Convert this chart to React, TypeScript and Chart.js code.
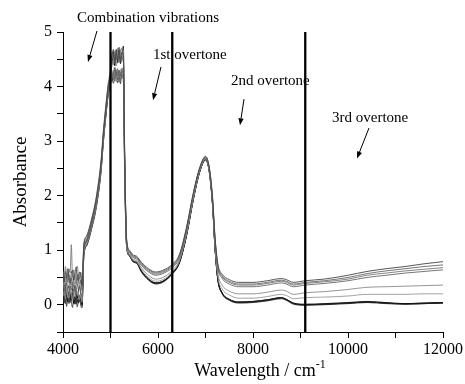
import React, { useEffect, useRef } from "react";
import { Chart, registerables } from "chart.js";

Chart.register(...registerables);

// wavenumber sample positions (cm-1)
const WN = [
  4000, 4025, 4050, 4075, 4100, 4125, 4150, 4175, 4200, 4225, 4250, 4275, 4300, 4325, 4350, 4375, 4400,
  4440, 4500, 4600, 4700, 4800, 4850, 4900, 4950, 5000,
  5030, 5060, 5090, 5120, 5150, 5180, 5210, 5240, 5270,
  5300, 5340, 5400, 5480, 5550, 5650, 5800, 5950, 6100, 6300, 6450, 6600, 6750, 6880, 7000, 7080, 7150, 7200,
  7260, 7350, 7500, 7700, 8000, 8300, 8600, 8700, 8850, 9100, 9500, 10000, 10400, 10800, 11200, 11600, 12000,
];

const S1 = [
  0.55, 0.42, 0.61, 0.48, 0.66, 0.52, 0.40, 0.58, 0.63, 0.45, 0.57, 0.69, 0.50, 0.44, 0.60, 0.53, 0.35,
  1.10, 1.25, 1.55, 1.95, 2.60, 3.15, 3.60, 4.00, 4.25,
  4.55, 4.68, 4.42, 4.61, 4.50, 4.72, 4.45, 4.63, 4.58,
  2.60, 1.20, 1.00, 0.91, 0.89, 0.78, 0.66, 0.60, 0.63, 0.74, 0.92, 1.42, 2.08, 2.52, 2.72, 2.52, 1.95, 1.25,
  0.75, 0.56, 0.46, 0.41, 0.41, 0.44, 0.48, 0.46, 0.41, 0.44, 0.47, 0.54, 0.61, 0.66, 0.70, 0.75, 0.79,
];
const S2 = [
  0.38, 0.50, 0.33, 0.47, 0.41, 0.56, 0.36, 0.49, 0.30, 0.52, 0.44, 0.37, 0.55, 0.42, 0.31, 0.46, 0.25,
  1.00, 1.18, 1.48, 1.88, 2.52, 3.08, 3.52, 3.92, 4.18,
  4.25, 4.12, 4.30, 4.18, 4.33, 4.08, 4.27, 4.15, 4.22,
  2.55, 1.18, 0.98, 0.89, 0.87, 0.76, 0.64, 0.58, 0.61, 0.72, 0.90, 1.40, 2.06, 2.51, 2.71, 2.50, 1.93, 1.22,
  0.72, 0.53, 0.43, 0.38, 0.38, 0.41, 0.45, 0.43, 0.38, 0.41, 0.44, 0.50, 0.57, 0.62, 0.66, 0.70, 0.73,
];
const S3 = [
  0.62, 0.48, 0.70, 0.55, 0.45, 0.66, 0.58, 1.10, 0.52, 0.64, 0.49, 0.59, 0.71, 0.54, 0.47, 0.60, 0.40,
  1.12, 1.27, 1.57, 1.98, 2.64, 3.20, 3.65, 4.05, 4.30,
  4.48, 4.40, 4.65, 4.52, 4.70, 4.44, 4.60, 4.71, 4.52,
  2.65, 1.16, 0.97, 0.88, 0.86, 0.74, 0.62, 0.56, 0.59, 0.70, 0.88, 1.38, 2.05, 2.50, 2.70, 2.49, 1.91, 1.20,
  0.70, 0.51, 0.41, 0.36, 0.36, 0.39, 0.43, 0.41, 0.36, 0.39, 0.42, 0.47, 0.54, 0.58, 0.62, 0.65, 0.68,
];
const S4 = [
  0.25, 0.36, 0.22, 0.40, 0.30, 0.18, 0.34, 0.27, 0.41, 0.24, 0.33, 0.20, 0.38, 0.29, 0.35, 0.22, 0.15,
  0.98, 1.15, 1.45, 1.85, 2.50, 3.05, 3.50, 3.90, 4.12,
  4.15, 4.28, 4.10, 4.31, 4.20, 4.26, 4.12, 4.34, 4.19,
  2.50, 1.14, 0.96, 0.86, 0.84, 0.72, 0.60, 0.54, 0.57, 0.68, 0.86, 1.36, 2.03, 2.49, 2.69, 2.48, 1.89, 1.17,
  0.67, 0.48, 0.38, 0.33, 0.33, 0.36, 0.40, 0.38, 0.33, 0.36, 0.39, 0.44, 0.50, 0.54, 0.58, 0.61, 0.64,
];
const S5 = [
  0.45, 0.30, 0.52, 0.35, 0.58, 0.40, 0.28, 0.46, 0.55, 0.33, 0.42, 0.50, 0.36, 0.57, 0.39, 0.44, 0.30,
  1.08, 1.22, 1.52, 1.92, 2.58, 3.12, 3.58, 3.98, 4.22,
  4.62, 4.50, 4.58, 4.38, 4.64, 4.55, 4.69, 4.47, 4.66,
  2.45, 1.10, 0.93, 0.83, 0.81, 0.68, 0.54, 0.47, 0.50, 0.63, 0.82, 1.32, 2.00, 2.47, 2.68, 2.46, 1.86, 1.12,
  0.58, 0.36, 0.25, 0.20, 0.20, 0.23, 0.27, 0.25, 0.19, 0.22, 0.24, 0.28, 0.32, 0.33, 0.34, 0.35, 0.36,
];
const S6 = [
  0.15, 0.26, 0.10, 0.30, 0.20, 0.12, 0.28, 0.18, 0.08, 0.25, 0.14, 0.31, 0.17, 0.22, 0.09, 0.20, 0.05,
  0.95, 1.12, 1.42, 1.82, 2.47, 3.02, 3.47, 3.88, 4.10,
  4.30, 4.17, 4.24, 4.09, 4.28, 4.14, 4.32, 4.21, 4.27,
  2.40, 1.08, 0.91, 0.81, 0.79, 0.65, 0.50, 0.43, 0.46, 0.60, 0.80, 1.30, 1.98, 2.46, 2.67, 2.45, 1.84, 1.08,
  0.52, 0.29, 0.18, 0.12, 0.12, 0.15, 0.19, 0.17, 0.11, 0.13, 0.14, 0.16, 0.19, 0.19, 0.19, 0.20, 0.20,
];
const S7 = [
  0.32, 0.20, 0.38, 0.15, 0.28, 0.35, 0.22, 0.12, 0.30, 0.19, 0.36, 0.24, 0.13, 0.27, 0.33, 0.18, 0.10,
  1.04, 1.19, 1.49, 1.90, 2.55, 3.10, 3.55, 3.95, 4.20,
  4.40, 4.57, 4.49, 4.68, 4.43, 4.60, 4.51, 4.58, 4.74,
  2.70, 1.12, 0.92, 0.80, 0.78, 0.62, 0.47, 0.40, 0.43, 0.58, 0.78, 1.28, 1.97, 2.45, 2.66, 2.44, 1.82, 1.05,
  0.47, 0.22, 0.10, 0.05, 0.06, 0.09, 0.13, 0.10, 0.03, 0.01, 0.02, 0.04, 0.06, 0.04, 0.02, 0.03, 0.04,
];
const S8 = [
  0.05, 0.15, 0.02, 0.18, 0.09, 0.20, 0.04, 0.14, 0.22, 0.07, 0.16, 0.01, 0.12, 0.19, 0.06, 0.13, -0.02,
  0.92, 1.10, 1.40, 1.80, 2.45, 3.00, 3.45, 3.85, 4.08,
  4.10, 4.22, 4.35, 4.16, 4.07, 4.30, 4.19, 4.25, 4.13,
  2.35, 1.06, 0.90, 0.79, 0.77, 0.61, 0.46, 0.39, 0.42, 0.57, 0.77, 1.27, 1.96, 2.44, 2.66, 2.44, 1.81, 1.04,
  0.46, 0.21, 0.09, 0.04, 0.05, 0.08, 0.12, 0.09, 0.02, 0.00, 0.01, 0.03, 0.05, 0.03, 0.01, 0.02, 0.03,
];
const S9 = [
  0.22, 0.10, 0.27, 0.12, 0.05, 0.24, 0.15, 0.08, 0.20, 0.02, 0.11, 0.26, 0.09, 0.03, 0.17, 0.07, 0.00,
  1.00, 1.16, 1.46, 1.86, 2.52, 3.06, 3.52, 3.93, 4.15,
  4.52, 4.64, 4.38, 4.55, 4.47, 4.66, 4.42, 4.54, 4.48,
  2.50, 1.10, 0.91, 0.80, 0.78, 0.62, 0.47, 0.40, 0.43, 0.58, 0.78, 1.28, 1.97, 2.45, 2.67, 2.45, 1.82, 1.05,
  0.47, 0.22, 0.10, 0.05, 0.06, 0.09, 0.13, 0.10, 0.03, 0.00, 0.01, 0.03, 0.05, 0.03, 0.02, 0.03, 0.04,
];
const S10 = [
  0.12, 0.03, 0.18, -0.03, 0.10, 0.02, 0.15, 0.06, -0.05, 0.09, 0.01, 0.14, -0.04, 0.07, 0.11, -0.02, -0.06,
  0.90, 1.08, 1.38, 1.78, 2.43, 2.98, 3.43, 3.83, 4.05,
  4.20, 4.06, 4.18, 4.27, 4.13, 4.22, 4.05, 4.29, 4.24,
  2.30, 1.05, 0.89, 0.78, 0.76, 0.60, 0.45, 0.38, 0.41, 0.56, 0.76, 1.26, 1.95, 2.44, 2.65, 2.43, 1.80, 1.03,
  0.45, 0.20, 0.08, 0.03, 0.04, 0.07, 0.11, 0.08, 0.01, -0.01, 0.00, 0.02, 0.04, 0.02, 0.01, 0.02, 0.03,
];

const SERIES = [S1, S2, S3, S4, S5, S6, S7, S8, S9, S10];
const SERIES_COLORS = ["#444", "#666", "#777", "#666", "#8a8a8a", "#999", "#111", "#222", "#000", "#333"];

// region boundaries (cm-1)
const BOUNDARIES = [5000, 6300, 9100];

// annotation labels: text, anchor wavenumber, anchor absorbance (left/baseline)
const LABELS = [
  { text: "Combination vibrations", x: 4295, y: 5.18 },
  { text: "1st overtone", x: 5895, y: 4.5 },
  { text: "2nd overtone", x: 7537, y: 4.02 },
  { text: "3rd overtone", x: 9663, y: 3.35 },
];
// arrows: from (x1,y1) to (x2,y2) in data units
const ARROWS = [
  { x1: 4716, y1: 5.02, x2: 4526, y2: 4.45 },
  { x1: 6063, y1: 4.36, x2: 5895, y2: 3.75 },
  { x1: 7811, y1: 3.77, x2: 7726, y2: 3.29 },
  { x1: 10442, y1: 3.24, x2: 10189, y2: 2.68 },
];

const FONT = "'Liberation Serif', 'Times New Roman', serif";

const overlay = {
  id: "overlay",
  afterDatasetsDraw(chart: any) {
    const { ctx, scales, chartArea } = chart;
    const xs = scales.x;
    const ys = scales.y;
    ctx.save();
    // region boundary lines
    ctx.strokeStyle = "#000";
    ctx.lineWidth = 2.3;
    BOUNDARIES.forEach((b) => {
      const px = xs.getPixelForValue(b);
      ctx.beginPath();
      ctx.moveTo(px, ys.getPixelForValue(5));
      ctx.lineTo(px, chartArea.bottom);
      ctx.stroke();
    });
    // labels
    ctx.fillStyle = "#000";
    ctx.font = `15px ${FONT}`;
    ctx.textBaseline = "alphabetic";
    ctx.textAlign = "left";
    LABELS.forEach((l) => {
      ctx.fillText(l.text, xs.getPixelForValue(l.x), ys.getPixelForValue(l.y));
    });
    // arrows
    ctx.lineWidth = 1;
    ARROWS.forEach((a) => {
      const x1 = xs.getPixelForValue(a.x1);
      const y1 = ys.getPixelForValue(a.y1);
      const x2 = xs.getPixelForValue(a.x2);
      const y2 = ys.getPixelForValue(a.y2);
      const ang = Math.atan2(y2 - y1, x2 - x1);
      const L = 7;
      const W = 2.6;
      const bx = x2 - L * Math.cos(ang);
      const by = y2 - L * Math.sin(ang);
      ctx.beginPath();
      ctx.moveTo(x1, y1);
      ctx.lineTo(bx, by);
      ctx.stroke();
      ctx.beginPath();
      ctx.moveTo(x2, y2);
      ctx.lineTo(bx + W * Math.sin(ang), by - W * Math.cos(ang));
      ctx.lineTo(bx - W * Math.sin(ang), by + W * Math.cos(ang));
      ctx.closePath();
      ctx.fill();
    });
    // axis titles
    ctx.font = `18px ${FONT}`;
    const main = "Wavelength / cm";
    const w = ctx.measureText(main).width;
    ctx.font = `12px ${FONT}`;
    const sw = ctx.measureText("-1").width;
    const total = w + sw;
    const cx = (chartArea.left + chartArea.right) / 2 + 7;
    const tx = cx - total / 2;
    const ty = 376;
    ctx.font = `18px ${FONT}`;
    ctx.fillText(main, tx, ty);
    ctx.font = `12px ${FONT}`;
    ctx.fillText("-1", tx + w, ty - 8);

    ctx.save();
    ctx.translate(chartArea.left - 42, (chartArea.top + chartArea.bottom) / 2);
    ctx.rotate(-Math.PI / 2);
    ctx.font = `19px ${FONT}`;
    ctx.textAlign = "center";
    ctx.textBaseline = "middle";
    ctx.fillText("Absorbance", 0, 0);
    ctx.restore();
    ctx.restore();
  },
};

export default function App() {
  const ref = useRef<HTMLCanvasElement | null>(null);
  useEffect(() => {
    document.body.style.margin = "0";
    const canvas = ref.current;
    if (!canvas) return;
    const datasets = SERIES.map((s, i) => ({
      data: WN.map((x, j) => ({ x, y: s[j] })),
      borderColor: SERIES_COLORS[i],
      borderWidth: 0.9,
      pointRadius: 0,
      fill: false,
      tension: 0.3,
      cubicInterpolationMode: "monotone" as const,
    }));
    const chart = new Chart(canvas, {
      type: "line",
      data: { datasets },
      options: {
        animation: false,
        responsive: false,
        devicePixelRatio: 1,
        layout: { padding: { top: 32, right: 22, left: 0, bottom: 0 } },
        plugins: { legend: { display: false }, tooltip: { enabled: false } },
        scales: {
          x: {
            type: "linear",
            min: 4000,
            max: 12000,
            afterFit: (s: any) => {
              s.height = 52;
            },
            ticks: {
              stepSize: 1000,
              autoSkip: false,
              maxRotation: 0,
              padding: 2,
              color: "#000",
              font: { family: FONT, size: 16 },
              callback: (v: any) => (Number(v) % 2000 === 0 ? String(v) : ""),
            },
            grid: { drawOnChartArea: false, drawTicks: true, tickLength: 6, tickColor: "#000" },
            border: { display: true, color: "#000", width: 1 },
          },
          y: {
            type: "linear",
            min: -0.5,
            max: 5,
            afterFit: (s: any) => {
              s.width = 63;
            },
            ticks: {
              stepSize: 0.5,
              autoSkip: false,
              padding: 5,
              color: "#000",
              font: { family: FONT, size: 16 },
              callback: (v: any) => (Number.isInteger(Number(v)) ? String(v) : ""),
            },
            grid: { drawOnChartArea: false, drawTicks: true, tickLength: 6, tickColor: "#000" },
            border: { display: true, color: "#000", width: 1 },
          },
        },
      },
      plugins: [overlay],
    });
    return () => chart.destroy();
  }, []);
  return (
    <div style={{ width: 465, height: 384, background: "#fff" }}>
      <canvas ref={ref} width={465} height={384} style={{ display: "block" }} />
    </div>
  );
}
